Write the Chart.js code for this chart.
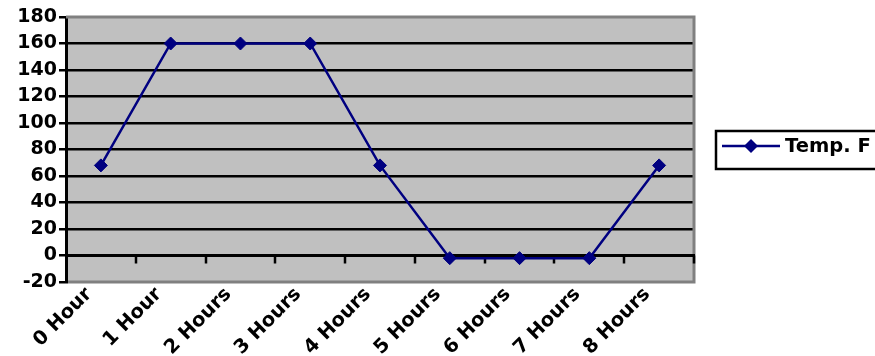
<!DOCTYPE html>
<html>
<head>
<meta charset="utf-8">
<script src="https://cdn.jsdelivr.net/npm/chart.js@4/dist/chart.umd.min.js"></script>
<style>
  html, body { margin: 0; padding: 0; background: #ffffff; }
  #wrap { width: 875px; height: 356px; position: relative; }
</style>
</head>
<body>
<div id="wrap"><canvas id="c"></canvas></div>
<script>
// Oven temperature over a baking cycle
const categories = ['0 Hour', '1 Hour', '2 Hours', '3 Hours', '4 Hours', '5 Hours', '6 Hours', '7 Hours', '8 Hours'];
const tempF = [68, 160, 160, 160, 68, -2, -2, -2, 68];
const seriesLabel = 'Temp. F';
const yMin = -20, yMax = 180, yStep = 20;

const FONT = '"DejaVu Sans", Verdana, sans-serif';
const NAVY = '#000080';
const PLOT_BG = '#C0C0C0';
const PLOT_EDGE = '#808080';

// grey plot background and frame, plus category ticks hanging off the zero line
const plotFrame = {
  id: 'plotFrame',
  beforeDraw(chart) {
    const { ctx, chartArea: a } = chart;
    ctx.save();
    ctx.fillStyle = PLOT_BG;
    ctx.fillRect(a.left, a.top, a.right - a.left, a.bottom - a.top);
    ctx.restore();
  },
  beforeDatasetsDraw(chart) {
    const { ctx, chartArea: a, scales } = chart;
    ctx.save();
    ctx.strokeStyle = PLOT_EDGE;
    ctx.lineWidth = 3;
    ctx.beginPath();
    ctx.moveTo(a.left, a.top);
    ctx.lineTo(a.right, a.top);
    ctx.lineTo(a.right, a.bottom);
    ctx.lineTo(a.left + 2, a.bottom);
    ctx.stroke();

    // category axis crosses at zero
    const y0 = scales.y.getPixelForValue(0);
    const x = scales.x;
    const half = (x.getPixelForValue(1) - x.getPixelForValue(0)) / 2;
    ctx.strokeStyle = '#000000';
    ctx.lineWidth = 3;
    ctx.beginPath();
    ctx.moveTo(a.left, y0);
    ctx.lineTo(a.right + 1, y0);
    ctx.stroke();
    ctx.lineWidth = 2.5;
    for (let i = 1; i <= categories.length; i++) {
      const px = Math.round(x.getPixelForValue(i - 1) + half);
      ctx.beginPath();
      ctx.moveTo(px, y0);
      ctx.lineTo(px, y0 + 8);
      ctx.stroke();
    }
    ctx.restore();
  }
};

// boxed legend to the right of the plot
const boxLegend = {
  id: 'boxLegend',
  afterDraw(chart) {
    const { ctx, chartArea: a } = chart;
    const ds = chart.data.datasets[0];
    const left = a.right + 22;
    const cy = Math.round((a.top + a.bottom) / 2);
    const top = cy - 19, h = 38;
    ctx.save();
    ctx.fillStyle = '#ffffff';
    ctx.fillRect(left, top, chart.width - left + 10, h);
    ctx.strokeStyle = '#000000';
    ctx.lineWidth = 2.5;
    ctx.strokeRect(left, top, chart.width - left + 10, h);
    // sample line with marker
    ctx.strokeStyle = NAVY;
    ctx.lineWidth = 2.5;
    ctx.beginPath();
    ctx.moveTo(left + 6, cy - 4);
    ctx.lineTo(left + 64, cy - 4);
    ctx.stroke();
    ctx.fillStyle = NAVY;
    ctx.beginPath();
    const mx = left + 35, my = cy - 4, r = 7;
    ctx.moveTo(mx - r, my);
    ctx.lineTo(mx, my - r);
    ctx.lineTo(mx + r, my);
    ctx.lineTo(mx, my + r);
    ctx.closePath();
    ctx.fill();
    // label
    ctx.fillStyle = '#000000';
    ctx.font = 'bold 19.5px ' + FONT;
    ctx.textBaseline = 'middle';
    ctx.textAlign = 'left';
    ctx.fillText(ds.label, left + 69, cy - 3);
    ctx.restore();
  }
};

new Chart(document.getElementById('c'), {
  type: 'line',
  data: {
    labels: categories,
    datasets: [{
      label: seriesLabel,
      data: tempF,
      borderColor: NAVY,
      backgroundColor: NAVY,
      borderWidth: 2.5,
      pointStyle: 'rectRot',
      pointRadius: 6.5,
      pointBorderWidth: 1,
      pointBorderColor: NAVY,
      pointBackgroundColor: NAVY,
      tension: 0,
      fill: false
    }]
  },
  options: {
    responsive: true,
    maintainAspectRatio: false,
    animation: false,
    events: [],
    layout: { padding: { left: 0, right: 181, top: 17, bottom: 0 } },
    plugins: {
      legend: { display: false },
      tooltip: { enabled: false }
    },
    scales: {
      x: {
        type: 'category',
        offset: true,
        grid: { display: false, drawTicks: false },
        border: { display: false },
        ticks: {
          color: '#000000',
          font: { family: FONT, size: 19.5, weight: 'bold' },
          minRotation: 45,
          maxRotation: 45,
          padding: 1,
          labelOffset: -12,
          autoSkip: false
        },
        afterFit(scale) { scale.height = 74; }
      },
      y: {
        min: yMin,
        max: yMax,
        grid: {
          color: (c) => (c.tick && (c.tick.value === yMin || c.tick.value === yMax)) ? 'rgba(0,0,0,0)' : '#000000',
          lineWidth: 2.5,
          tickColor: '#000000',
          tickLength: 7,
          tickWidth: 2.5
        },
        border: { display: true, color: '#000000', width: 3 },
        ticks: {
          stepSize: yStep,
          color: '#000000',
          font: { family: FONT, size: 19, weight: 'bold' },
          padding: 2
        },
        afterFit(scale) { scale.width = 66; }
      }
    }
  },
  plugins: [plotFrame, boxLegend]
});
</script>
</body>
</html>
